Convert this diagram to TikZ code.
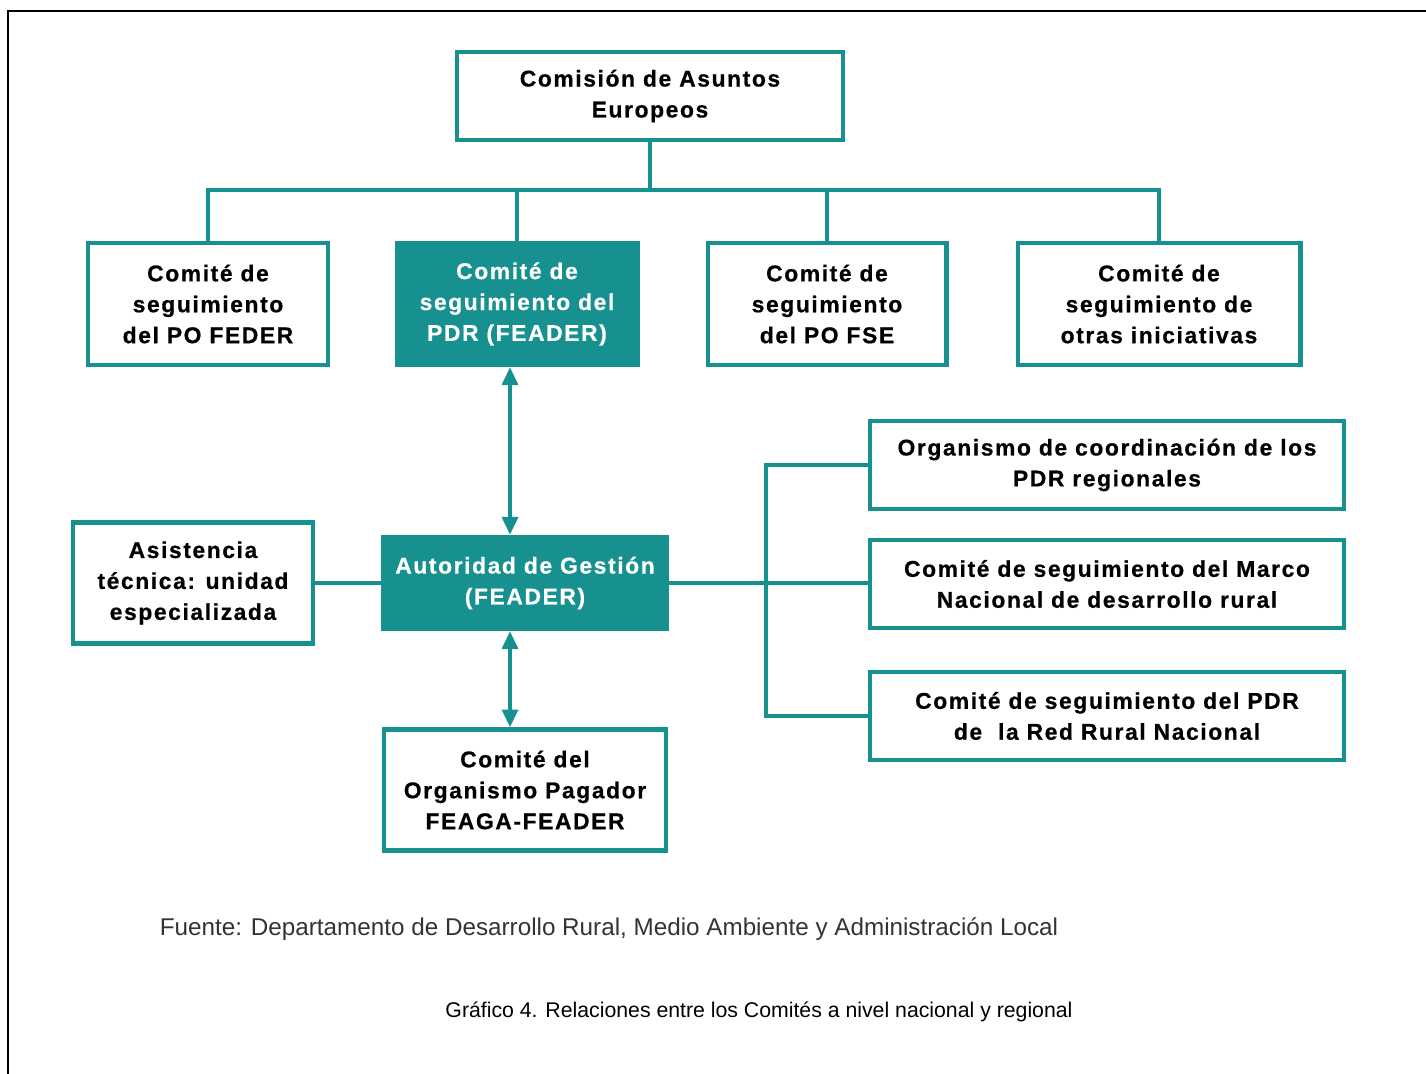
\documentclass[tikz,border=0pt]{standalone}
\usepackage{fontspec}
\setmainfont{Liberation Sans}
\newfontfamily\boxfont{Liberation Sans}[LetterSpace=7,BoldFeatures={FakeBold=0.6}]
\usepackage{xcolor}
\definecolor{cTeal}{HTML}{17918F}
\definecolor{cFrame}{HTML}{000000}
\definecolor{cNote}{HTML}{333333}
\usetikzlibrary{positioning,arrows.meta,calc}
\tikzset{
  node-box/.style={draw=cTeal,line width=2.3pt,fill=white,align=center,
    inner sep=2pt,font=\boxfont\bfseries\fontsize{13}{17.6}\selectfont},
  node-fill/.style={fill=cTeal,text=white},
  link/.style={draw=cTeal,line width=2.8pt},
  link-both/.style={{Triangle[length=3.6mm,width=3.1mm]}-{Triangle[length=3.6mm,width=3.1mm]},
    draw=cTeal,line width=2.8pt},
  frame-line/.style={draw=cFrame,line width=1.7pt},
}

\begin{document}
\begin{tikzpicture}[x=0.02cm,y=-0.02cm]
  \useasboundingbox (0,0) rectangle (1426,1074);
  \draw[frame-line] (8,1074) -- (8,11) -- (1426,11);

  % cabecera
  \node[node-box,minimum width=7.72cm,minimum height=1.76cm] (com) at (650,96)
    {Comisión de Asuntos\\Europeos};

  % comites de seguimiento
  \node[node-box,minimum width=4.8cm,minimum height=2.44cm]  (feder) at (208,304)
    {Comité de\\seguimiento\\del PO FEDER};
  \node[node-box,node-fill,minimum width=4.82cm,minimum height=2.44cm] (pdr) at (517,304)
    {Comité de\\seguimiento del\\PDR (FEADER)};
  \node[node-box,minimum width=4.78cm,minimum height=2.44cm]  (fse) at (827,304)
    {Comité de\\seguimiento\\del PO FSE};
  \node[node-box,minimum width=5.66cm,minimum height=2.44cm]  (otras) at (1159,304)
    {Comité de\\seguimiento de\\otras iniciativas};

  % autoridad y alrededores
  \node[node-box,node-fill,minimum width=5.68cm,minimum height=1.84cm] (aut) at (525,583)
    {Autoridad de Gestión\\(FEADER)};
  \node[node-box,minimum width=4.8cm,minimum height=2.42cm]  (asis) at (193,583)
    {Asistencia\\técnica: unidad\\especializada};
  \node[node-box,minimum width=5.64cm,minimum height=2.42cm] (pag) at (525,790)
    {Comité del\\Organismo Pagador\\FEAGA-FEADER};

  % bloque derecho
  \node[node-box,minimum width=9.5cm,minimum height=1.76cm] (org) at (1107,465)
    {Organismo de coordinación de los\\PDR regionales};
  \node[node-box,minimum width=9.5cm,minimum height=1.76cm] (marco) at (1107,584)
    {Comité de seguimiento del Marco\\Nacional de desarrollo rural};
  \node[node-box,minimum width=9.5cm,minimum height=1.76cm] (red) at (1107,716)
    {Comité de seguimiento del PDR\\de\ \ la Red Rural Nacional};

  % conexiones
  \draw[link] (com.south) -- (com.south |- 0,190) coordinate (bus);
  \draw[link] (feder.north) |- (otras.north |- bus) -- (otras.north);
  \draw[link] (pdr.north) -- (pdr.north |- bus);
  \draw[link] (fse.north) -- (fse.north |- bus);

  \draw[link-both] (510,0 |- pdr.south) -- (510,0 |- aut.north);
  \draw[link-both] (510,0 |- aut.south) -- (510,0 |- pag.north);
  \draw[link] (asis.east) -- (aut.west);
  \draw[link] (aut.east) -- (aut.east -| marco.west);
  \coordinate (jn) at (766,583);
  \draw[link] (org.west) -| (jn) |- (red.west);

  % notas
  \node[text=cNote,font=\fontsize{13.8}{16}\selectfont] (src) at (609,929)
    {Fuente: Departamento de Desarrollo Rural, Medio Ambiente y Administración Local};
  \node[font=\fontsize{12.1}{14}\selectfont] (cap) at (759,1012)
    {Gráfico 4. Relaciones entre los Comités a nivel nacional y regional};
\end{tikzpicture}
\end{document}
